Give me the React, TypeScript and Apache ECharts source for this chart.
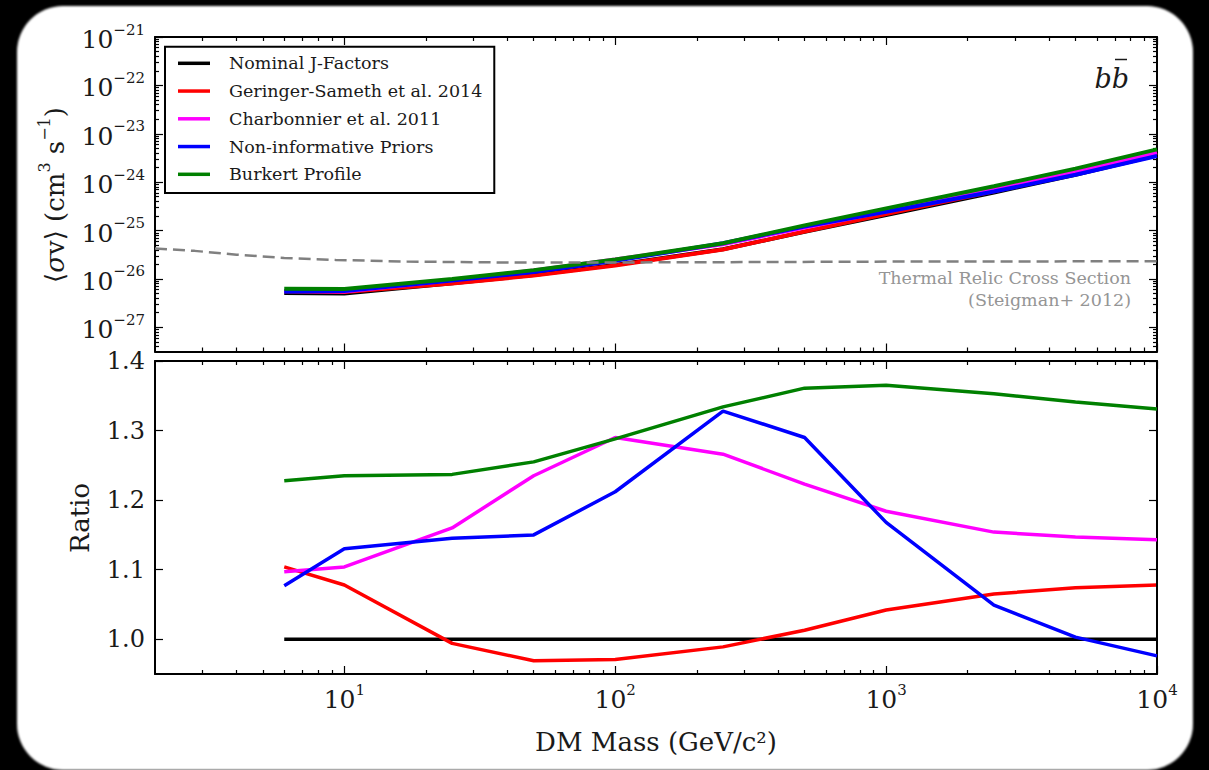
import React, { useEffect, useRef } from 'react';
import * as echarts from 'echarts';

// ---------------- data ----------------
const massGeV = [6, 10, 25, 50, 100, 250, 500, 1000, 2500, 5000, 10000];

// upper limits on <sigma v> (cm^3 s^-1)
const nominalLimit = [5.1e-27, 5.0e-27, 8.1e-27, 1.21e-26, 1.95e-26, 4.1e-26, 9.4e-26, 2.1e-25, 6.1e-25, 1.42e-24, 3.57e-24];
const geringerLimit = [5.63e-27, 5.39e-27, 8.05e-27, 1.17e-26, 1.89e-26, 4.05e-26, 9.52e-26, 2.19e-25, 6.5e-25, 1.525e-24, 3.85e-24];
const charbonnierLimit = [5.59e-27, 5.52e-27, 9.4e-27, 1.49e-26, 2.52e-26, 5.19e-26, 1.15e-25, 2.49e-25, 7.04e-25, 1.63e-24, 4.08e-24];
const noninformativeLimit = [5.49e-27, 5.65e-27, 9.27e-27, 1.39e-26, 2.36e-26, 5.44e-26, 1.21e-25, 2.45e-25, 6.4e-25, 1.42e-24, 3.48e-24];
const burkertLimit = [6.26e-27, 6.18e-27, 1.0e-26, 1.52e-26, 2.51e-26, 5.47e-26, 1.28e-25, 2.87e-25, 8.25e-25, 1.9e-24, 4.75e-24];

// ratios to nominal
const nominalRatio = [1.0, 1.0, 1.0, 1.0, 1.0, 1.0, 1.0, 1.0, 1.0, 1.0, 1.0];
const geringerRatio = [1.104, 1.078, 0.994, 0.969, 0.971, 0.989, 1.013, 1.042, 1.065, 1.074, 1.078];
const charbonnierRatio = [1.097, 1.104, 1.16, 1.235, 1.29, 1.266, 1.223, 1.184, 1.154, 1.147, 1.143];
const noninformativeRatio = [1.077, 1.13, 1.145, 1.15, 1.212, 1.328, 1.29, 1.168, 1.049, 1.003, 0.976];
const burkertRatio = [1.228, 1.235, 1.237, 1.255, 1.288, 1.334, 1.361, 1.365, 1.353, 1.341, 1.331];

// thermal relic cross section (Steigman+ 2012)
const thermalMass = [2, 2.8, 4, 6, 9.3, 17, 43, 150, 1000, 10000];
const thermalXsec = [4.24e-26, 3.8e-26, 3.17e-26, 2.72e-26, 2.47e-26, 2.28e-26, 2.18e-26, 2.2e-26, 2.28e-26, 2.32e-26];

const seriesNames = ['Nominal J-Factors', 'Geringer-Sameth et al. 2014', 'Charbonnier et al. 2011', 'Non-informative Priors', 'Burkert Profile'];
const seriesColors = ['#000000', '#ff0000', '#ff00ff', '#0000ff', '#008000'];
const limitSets = [nominalLimit, geringerLimit, charbonnierLimit, noninformativeLimit, burkertLimit];
const ratioSets = [nominalRatio, geringerRatio, charbonnierRatio, noninformativeRatio, burkertRatio];

const xTickExponents = [1, 2, 3, 4];
const yTopExponents = [-27, -26, -25, -24, -23, -22, -21];
const ratioTicks = [1.0, 1.1, 1.2, 1.3, 1.4];

// ---------------- styling ----------------
const FONT = "'DejaVu Serif', serif";
const TXT = '#1a1a1a';
const X_MIN = Math.log10(2);
const X_MAX = 4;
const YT_MIN = -27.5;
const YT_MAX = -21;
const R_MIN = 0.95;
const R_MAX = 1.4;

const log = (v: number) => Math.log10(v);

function minorLogTicks(lo: number, hi: number): number[] {
  const out: number[] = [];
  for (let n = Math.floor(lo) - 1; n <= Math.ceil(hi); n++) {
    for (let k = 2; k <= 9; k++) {
      const v = n + Math.log10(k);
      if (v > lo + 1e-9 && v < hi - 1e-9) out.push(v);
    }
  }
  return out;
}

const xMinor = minorLogTicks(X_MIN, X_MAX);
const ytMinor = minorLogTicks(YT_MIN, YT_MAX);
const xMajor = xTickExponents.map((e) => e);
const ytMajor = yTopExponents.map((e) => e);

const SUP_RICH = {
  b: { fontFamily: FONT, fontSize: 25, color: TXT, lineHeight: 30, verticalAlign: 'bottom' },
  s: { fontFamily: FONT, fontSize: 15, color: TXT, lineHeight: 17, verticalAlign: 'top' },
};

function axis(opts: any) {
  const { gridIndex, position, min, max, ticks, tickLen, line, label } = opts;
  return {
    type: 'value',
    gridIndex,
    position,
    min,
    max,
    scale: true,
    axisLine: { show: !!line, onZero: false, lineStyle: { color: '#000', width: 2 } },
    axisTick: { show: true, inside: true, length: tickLen, customValues: ticks, lineStyle: { color: '#000', width: 1.2 } },
    minorTick: { show: false },
    splitLine: { show: false },
    axisLabel: label ? label : { show: false },
    z: 5,
  };
}

function buildOption() {
  const xAxes = [
    axis({ gridIndex: 0, position: 'bottom', min: X_MIN, max: X_MAX, ticks: xMajor, tickLen: 8, line: true }),
    axis({ gridIndex: 0, position: 'bottom', min: X_MIN, max: X_MAX, ticks: xMinor, tickLen: 4 }),
    axis({ gridIndex: 0, position: 'top', min: X_MIN, max: X_MAX, ticks: xMajor, tickLen: 8, line: true }),
    axis({ gridIndex: 0, position: 'top', min: X_MIN, max: X_MAX, ticks: xMinor, tickLen: 4 }),
    axis({
      gridIndex: 1, position: 'bottom', min: X_MIN, max: X_MAX, ticks: xMajor, tickLen: 8, line: true,
      label: {
        show: true, customValues: xMajor, margin: 8,
        formatter: (v: number) => `{b|10}{s|${Math.round(v)}}`,
        rich: SUP_RICH,
      },
    }),
    axis({ gridIndex: 1, position: 'bottom', min: X_MIN, max: X_MAX, ticks: xMinor, tickLen: 4 }),
    axis({ gridIndex: 1, position: 'top', min: X_MIN, max: X_MAX, ticks: xMajor, tickLen: 8, line: true }),
    axis({ gridIndex: 1, position: 'top', min: X_MIN, max: X_MAX, ticks: xMinor, tickLen: 4 }),
  ];
  const yAxes = [
    axis({
      gridIndex: 0, position: 'left', min: YT_MIN, max: YT_MAX, ticks: ytMajor, tickLen: 8, line: true,
      label: {
        show: true, customValues: ytMajor, margin: 10,
        formatter: (v: number) => `{b|10}{s|\u2212${Math.abs(Math.round(v))}}`,
        rich: SUP_RICH,
      },
    }),
    axis({ gridIndex: 0, position: 'left', min: YT_MIN, max: YT_MAX, ticks: ytMinor, tickLen: 4 }),
    axis({ gridIndex: 0, position: 'right', min: YT_MIN, max: YT_MAX, ticks: ytMajor, tickLen: 8, line: true }),
    axis({ gridIndex: 0, position: 'right', min: YT_MIN, max: YT_MAX, ticks: ytMinor, tickLen: 4 }),
    axis({
      gridIndex: 1, position: 'left', min: R_MIN, max: R_MAX, ticks: ratioTicks, tickLen: 8, line: true,
      label: {
        show: true, customValues: ratioTicks, margin: 10,
        formatter: (v: number) => v.toFixed(1),
        fontFamily: FONT, fontSize: 24, color: TXT,
      },
    }),
    axis({ gridIndex: 1, position: 'right', min: R_MIN, max: R_MAX, ticks: ratioTicks, tickLen: 8, line: true }),
  ];

  const series: any[] = [];
  seriesNames.forEach((name, i) => {
    series.push({
      type: 'line', name, xAxisIndex: 0, yAxisIndex: 0,
      data: massGeV.map((m, j) => [log(m), log(limitSets[i][j])]),
      symbol: 'none', silent: true, z: 3 + i,
      lineStyle: { color: seriesColors[i], width: 4 },
      itemStyle: { color: seriesColors[i] },
    });
  });
  series.push({
    type: 'line', name: 'Thermal Relic Cross Section', xAxisIndex: 0, yAxisIndex: 0,
    data: thermalMass.map((m, j) => [log(m), log(thermalXsec[j])]),
    symbol: 'none', silent: true, z: 9,
    lineStyle: { color: '#808080', width: 2.5, type: [12, 6] },
    itemStyle: { color: '#808080' },
  });
  seriesNames.forEach((name, i) => {
    series.push({
      type: 'line', name, xAxisIndex: 4, yAxisIndex: 4,
      data: massGeV.map((m, j) => [log(m), ratioSets[i][j]]),
      symbol: 'none', silent: true, z: 3 + i,
      lineStyle: { color: seriesColors[i], width: 3.5 },
      itemStyle: { color: seriesColors[i] },
    });
  });

  return {
    animation: false,
    backgroundColor: 'transparent',
    grid: [
      { left: 155, top: 37, width: 1002, height: 314.5, containLabel: false, outerBoundsMode: 'none' },
      { left: 155, top: 361, width: 1002, height: 313, containLabel: false, outerBoundsMode: 'none' },
    ],
    xAxis: xAxes,
    yAxis: yAxes,
    legend: {
      show: true,
      orient: 'vertical',
      left: 165,
      top: 46.7,
      data: seriesNames,
      icon: 'rect',
      itemWidth: 32,
      itemHeight: 3.5,
      itemGap: 7.75,
      padding: [6.6, 12, 8.7, 13],
      borderColor: '#000',
      borderWidth: 2,
      borderRadius: 0,
      backgroundColor: '#fff',
      selectedMode: false,
      z: 20,
      textStyle: { fontFamily: FONT, fontSize: 17.5, color: TXT, lineHeight: 20, padding: [0, 0, 0, 14] },
    },
    graphic: [
      {
        type: 'text', x: 656, y: 742, z: 30,
        style: { text: 'DM Mass (GeV/c\u00b2)', font: `26px ${FONT}`, fill: TXT, align: 'center', verticalAlign: 'middle' },
      },
      {
        type: 'text', x: 80, y: 518, rotation: Math.PI / 2, z: 30,
        style: { text: 'Ratio', font: `26px ${FONT}`, fill: TXT, align: 'center', verticalAlign: 'middle' },
      },
      {
        type: 'text', x: 52, y: 195, rotation: Math.PI / 2, z: 30,
        style: {
          text: '{a|\u27e8}{i|\u03c3}{a|v\u27e9 (cm}{s|3}{a| s}{s|\u22121}{a|)}',
          align: 'center', verticalAlign: 'middle',
          rich: {
            a: { fontFamily: FONT, fontSize: 26, fill: TXT, lineHeight: 32, verticalAlign: 'bottom' },
            i: { fontFamily: FONT, fontStyle: 'italic', fontSize: 26, fill: TXT, lineHeight: 32, verticalAlign: 'bottom' },
            s: { fontFamily: FONT, fontSize: 16, fill: TXT, lineHeight: 18, verticalAlign: 'top' },
          },
        },
      },
      {
        type: 'text', x: 1129, y: 78, z: 30,
        style: { text: 'bb', font: `italic 27px ${FONT}`, fill: TXT, align: 'right', verticalAlign: 'middle' },
      },
      {
        type: 'line', z: 30,
        shape: { x1: 1115, y1: 59.5, x2: 1127, y2: 59.5 },
        style: { stroke: TXT, lineWidth: 1.5 },
      },
      {
        type: 'text', x: 1131, y: 278, z: 30,
        style: { text: 'Thermal Relic Cross Section', font: `17.5px ${FONT}`, fill: '#959595', align: 'right', verticalAlign: 'middle' },
      },
      {
        type: 'text', x: 1131, y: 300, z: 30,
        style: { text: '(Steigman+ 2012)', font: `17.5px ${FONT}`, fill: '#959595', align: 'right', verticalAlign: 'middle' },
      },
    ],
    series,
  };
}

export default function App() {
  const ref = useRef<HTMLDivElement>(null);
  useEffect(() => {
    if (!ref.current) return;
    const chart = echarts.init(ref.current, undefined, { renderer: 'svg', width: 1209, height: 770 });
    chart.setOption(buildOption() as any);
    return () => chart.dispose();
  }, []);
  return (
    <div style={{ position: 'fixed', left: 0, top: 0, width: 1209, height: 770, background: '#000', overflow: 'hidden' }}>
      <div
        style={{
          position: 'absolute', left: 17, top: 6, width: 1176, height: 764,
          borderRadius: 46, background: '#fff', filter: 'blur(1.2px)',
        }}
      />
      <div ref={ref} style={{ position: 'absolute', left: 0, top: 0, width: 1209, height: 770 }} />
    </div>
  );
}
